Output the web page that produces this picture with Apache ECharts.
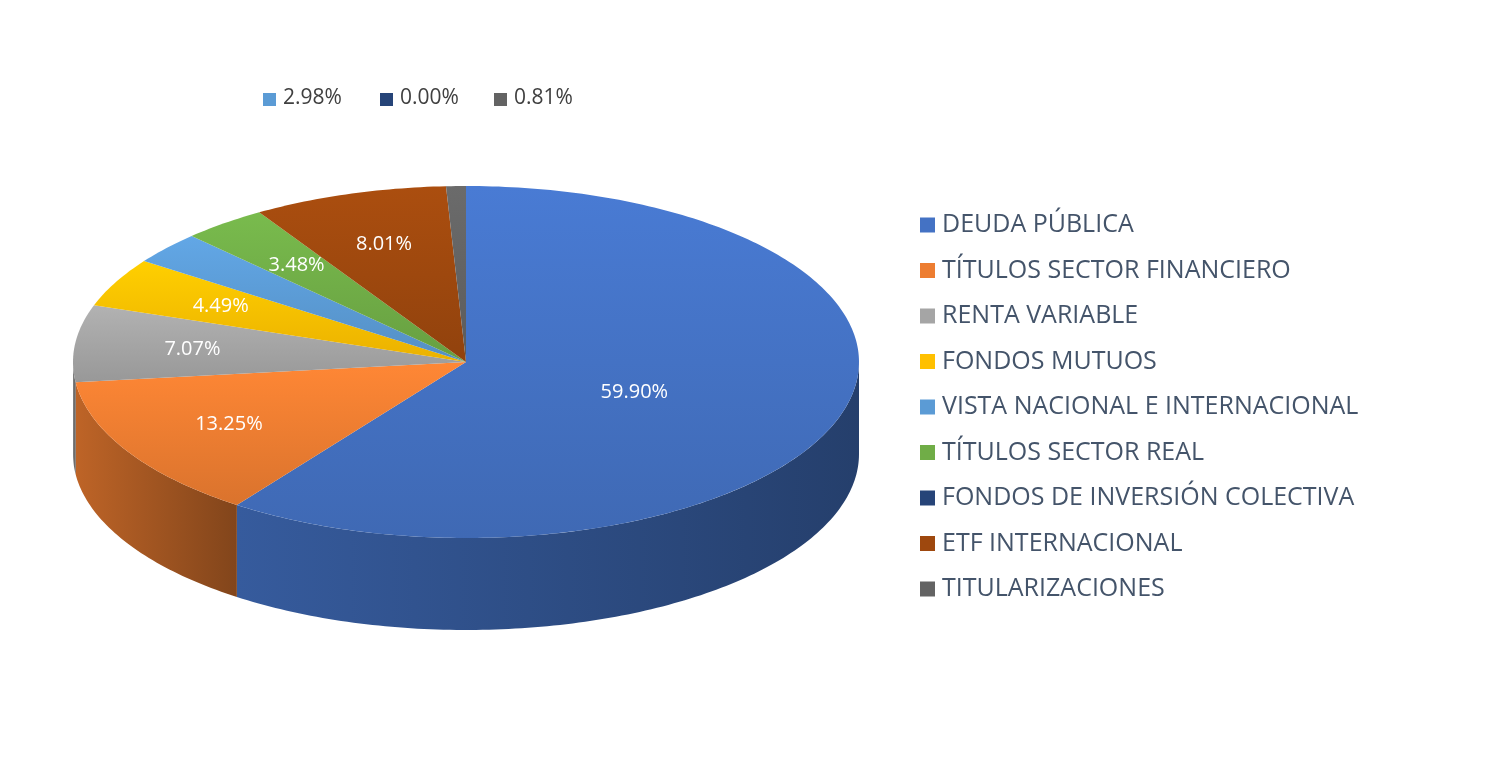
<!DOCTYPE html>
<html><head><meta charset="utf-8">
<script src="https://cdn.jsdelivr.net/npm/echarts@6/dist/echarts.min.js"></script>
<style>html,body{margin:0;background:#fff}#c{width:1501px;height:771px}</style></head>
<body><div id="c"></div>
<script>
const categories=['DEUDA PÚBLICA','TÍTULOS SECTOR FINANCIERO','RENTA VARIABLE','FONDOS MUTUOS','VISTA NACIONAL E INTERNACIONAL','TÍTULOS SECTOR REAL','FONDOS DE INVERSIÓN COLECTIVA','ETF INTERNACIONAL','TITULARIZACIONES'];
const values=[59.90,13.25,7.07,4.49,2.98,3.48,0.00,8.01,0.81];
const colors=['#4472c4','#ed7d31','#a5a5a5','#ffc000','#5b9bd5','#70ad47','#264478','#9e480e','#636363'];
const topLabelIdx=[4,6,8];
const chart=echarts.init(document.getElementById('c'));
const total=values.reduce((a,b)=>a+b,0);
const CX=466,CY=362,RX=393,RY=176,DEPTH=92;
function pt(t,dy){return [CX+RX*Math.sin(t),CY-RY*Math.cos(t)+(dy||0)];}
function shade(hex,f){const n=parseInt(hex.slice(1),16);let r=n>>16,g=(n>>8)&255,b=n&255;return 'rgb('+[r,g,b].map(v=>Math.round(v*f)).join(',')+')';}
let cum=0;const starts=values.map(v=>{const s=cum;cum+=v;return s;});
const series=categories.map((name,i)=>({
  type:'custom',name:name,coordinateSystem:'none',data:[[values[i]]],z:2,
  itemStyle:{color:colors[i]},
  renderItem:function(params,api){
    const a0=starts[i]/total*Math.PI*2,a1=(starts[i]+api.value(0))/total*Math.PI*2;
    const children=[];
    if(a1-a0<=0) return {type:'group',children:[]};
    const N=Math.max(4,Math.ceil((a1-a0)*60));
    const top=[[CX,CY]];
    for(let k=0;k<=N;k++) top.push(pt(a0+(a1-a0)*k/N));
    // side
    const s0=Math.max(a0,Math.PI/2),s1=Math.min(a1,Math.PI*1.5);
    if(s1>s0){
      const M=Math.ceil((s1-s0)*60),up=[],dn=[];
      for(let k=0;k<=M;k++){const t=s0+(s1-s0)*k/M;up.push(pt(t));dn.push(pt(t,DEPTH));}
      children.push({type:'polygon',z2:1,shape:{points:up.concat(dn.reverse())},
        style:{fill:{type:'linear',x:0,y:0,x2:1,y2:0,global:false,colorStops:[{offset:0,color:shade(colors[i],0.8)},{offset:1,color:shade(colors[i],0.55)}]}}});
    }
    children.push({type:'polygon',z2:10,shape:{points:top},
      style:{fill:{type:'linear',x:0,y:0,x2:0,y2:1,colorStops:[{offset:0,color:shade(colors[i],1.08)},{offset:1,color:shade(colors[i],0.92)}]}}});
    if(topLabelIdx.indexOf(i)<0){
      const m=(a0+a1)/2,f=i===0?0.45:0.7;
      children.push({type:'text',z2:20,style:{text:values[i].toFixed(2)+'%',x:CX+RX*f*Math.sin(m),y:CY-RY*f*Math.cos(m)-(i===0?-6:0),
        fill:'#fff',font:'20px "Open Sans", "Liberation Sans", sans-serif',align:'center',verticalAlign:'middle'}});
    }
    return {type:'group',children:children};
  }
}));
const graphic=[];
topLabelIdx.forEach((idx,j)=>{
  const x=[263,380,494][j];
  graphic.push({type:'rect',left:x,top:93,shape:{width:13,height:13},style:{fill:colors[idx]}});
  graphic.push({type:'text',left:x+20,top:88,style:{text:values[idx].toFixed(2)+'%',fill:'#404040',font:'21px "Open Sans", "Liberation Sans", sans-serif'}});
});
chart.setOption({
  animation:false,
  legend:{orient:'vertical',left:915,top:207,icon:'rect',itemWidth:15,itemHeight:15,itemGap:19.5,
    data:categories,textStyle:{fontSize:25,color:'#44546a',fontFamily:'"Open Sans", "Liberation Sans", sans-serif',padding:[0,0,0,2],lineHeight:26}},
  series:series,graphic:graphic
});
</script></body></html>
